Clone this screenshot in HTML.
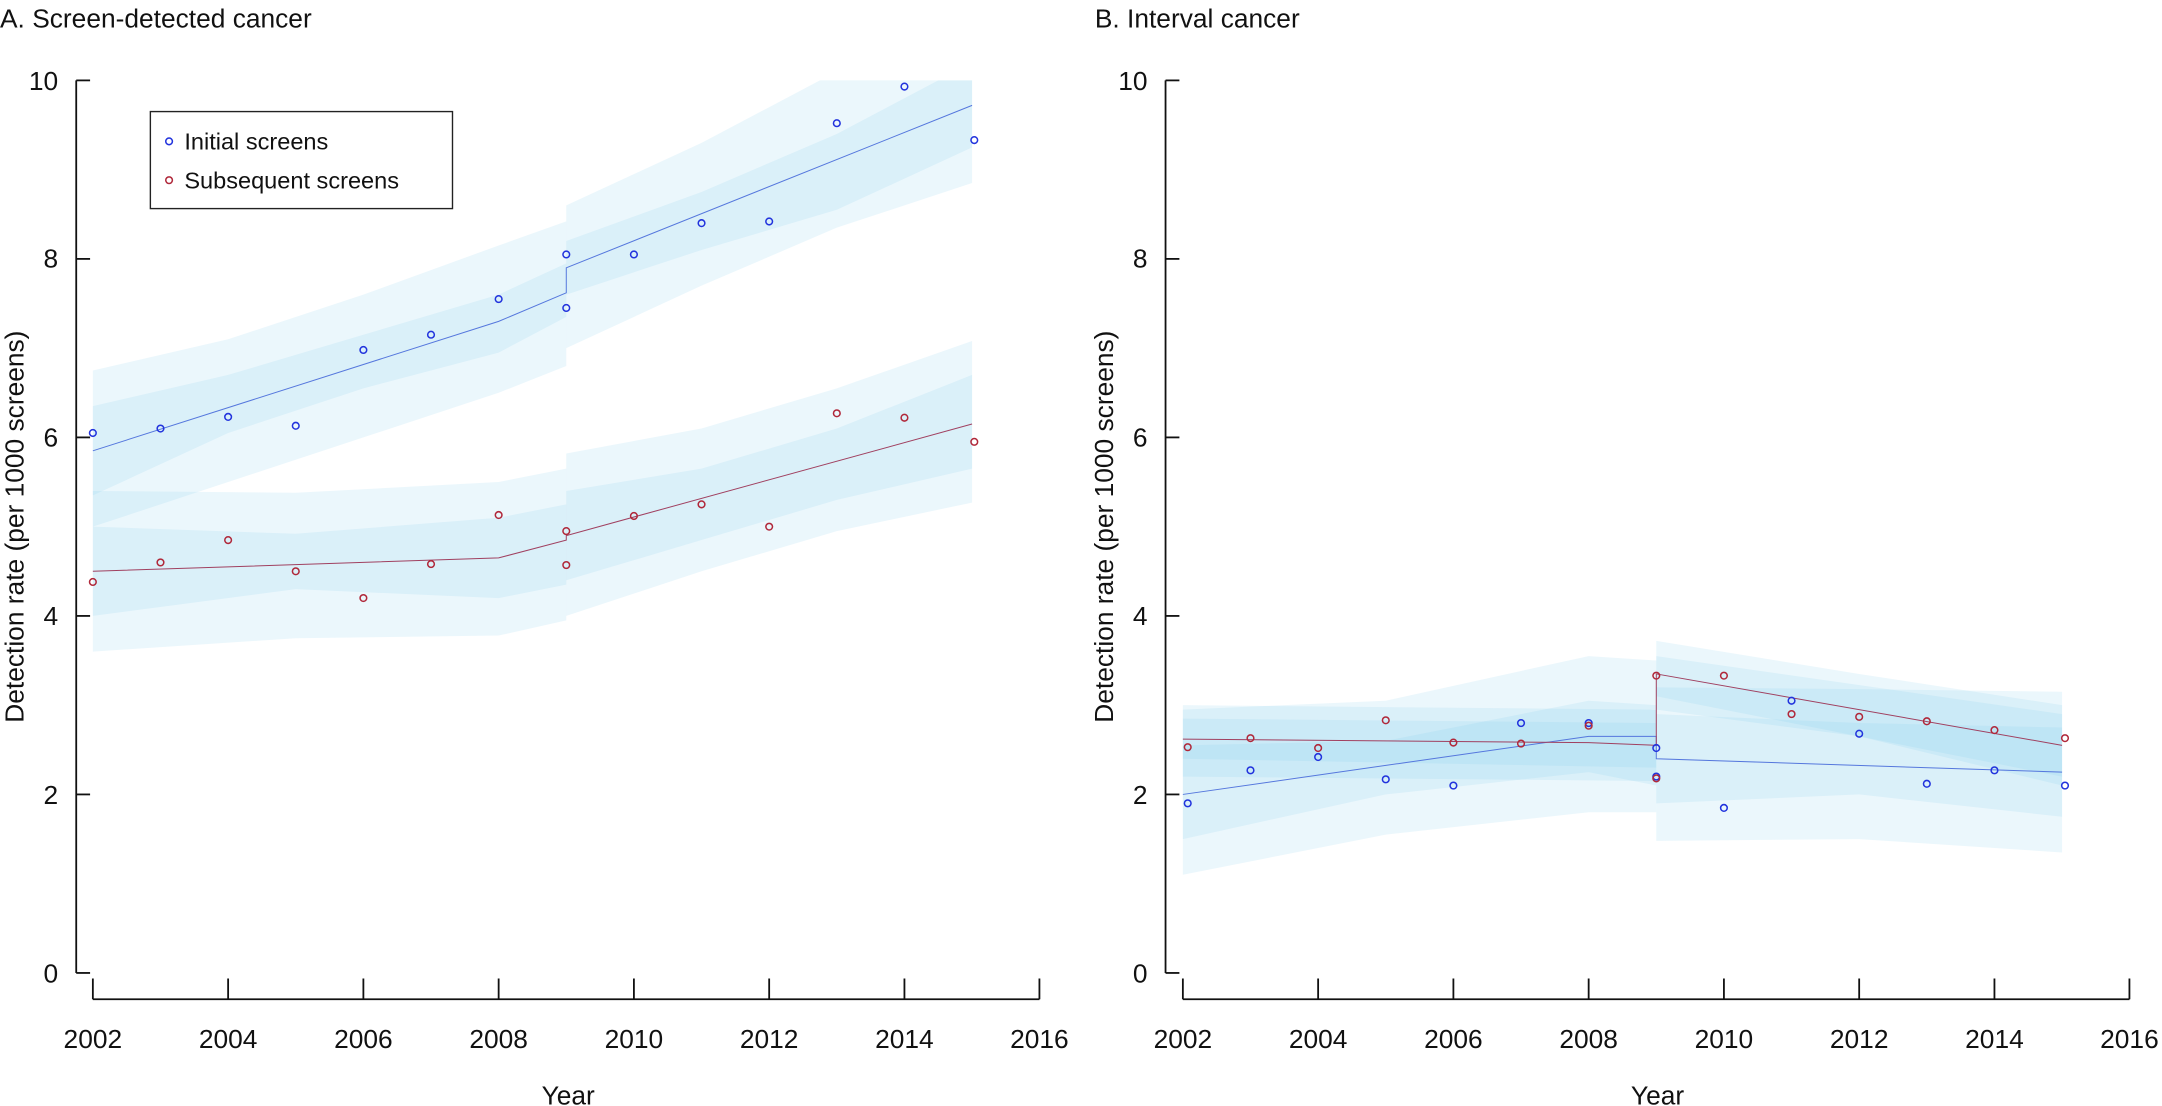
<!DOCTYPE html>
<html><head><meta charset="utf-8"><style>
html,body{margin:0;padding:0;background:#fff;}
svg{display:block;}
text{font-family:"Liberation Sans",sans-serif;fill:#111;}
</style></head><body>
<svg width="2162" height="1106" viewBox="0 0 1560 798" preserveAspectRatio="none" xmlns="http://www.w3.org/2000/svg">
<defs>
<clipPath id="ca"><rect x="55" y="58" width="720" height="660"/></clipPath>
</defs>

<!-- ===== Panel A ===== -->
<text x="0" y="20" font-size="19">A. Screen-detected cancer</text>
<g clip-path="url(#ca)">
<g transform="matrix(48.8 0 0 -64.4 67 702)">
 <g fill="rgb(120,200,235)" fill-opacity="0.15" stroke="none">
  <polygon points="0,6.75 2,7.1 4,7.6 6,8.15 7,8.42 7,6.8 6,6.5 4,6.0 2,5.5 0,5.0"/>
  <polygon points="7,8.6 9,9.3 11,10.1 13,10.8 13,8.85 11,8.35 9,7.7 7,7.0"/>
  <polygon points="0,6.35 2,6.7 4,7.15 6,7.6 7,7.95 7,7.35 6,6.95 4,6.55 2,6.05 0,5.35"/>
  <polygon points="7,8.2 9,8.75 11,9.4 13,10.2 13,9.25 11,8.55 9,8.1 7,7.6"/>
  <polygon points="0,5.4 3,5.38 6,5.5 7,5.65 7,3.95 6,3.78 3,3.75 0,3.6"/>
  <polygon points="7,5.82 9,6.1 11,6.55 13,7.08 13,5.27 11,4.95 9,4.5 7,4.0"/>
  <polygon points="0,5.0 3,4.92 6,5.1 7,5.25 7,4.35 6,4.2 3,4.3 0,4.0"/>
  <polygon points="7,5.4 9,5.65 11,6.1 13,6.7 13,5.65 11,5.3 9,4.85 7,4.4"/>
 </g>
 <polyline points="0,5.85 6,7.3 7,7.62 7,7.9 13,9.72" fill="none" stroke="#5577dd" stroke-width="1" vector-effect="non-scaling-stroke"/>
 <polyline points="0,4.5 6,4.65 7,4.85 7,4.9 13,6.15" fill="none" stroke="#a04060" stroke-width="1" vector-effect="non-scaling-stroke"/>
</g>
</g>
<g fill="none" stroke="#2233dd" stroke-width="1.1">
<circle cx="67" cy="312.4" r="2.4"/><circle cx="115.8" cy="309.2" r="2.4"/><circle cx="164.6" cy="300.8" r="2.4"/><circle cx="213.4" cy="307.2" r="2.4"/><circle cx="262.2" cy="252.5" r="2.4"/><circle cx="311" cy="241.5" r="2.4"/><circle cx="359.8" cy="215.8" r="2.4"/><circle cx="408.6" cy="222.2" r="2.4"/><circle cx="408.6" cy="183.6" r="2.4"/><circle cx="457.4" cy="183.6" r="2.4"/><circle cx="506.2" cy="161" r="2.4"/><circle cx="555" cy="159.8" r="2.4"/><circle cx="603.8" cy="88.9" r="2.4"/><circle cx="652.6" cy="62.5" r="2.4"/><circle cx="703" cy="101.1" r="2.4"/>
</g>
<g fill="none" stroke="#b0283a" stroke-width="1.1">
<circle cx="67" cy="419.9" r="2.4"/><circle cx="115.8" cy="405.8" r="2.4"/><circle cx="164.6" cy="389.7" r="2.4"/><circle cx="213.4" cy="412.2" r="2.4"/><circle cx="262.2" cy="431.5" r="2.4"/><circle cx="311" cy="407" r="2.4"/><circle cx="359.8" cy="371.6" r="2.4"/><circle cx="408.6" cy="407.7" r="2.4"/><circle cx="408.6" cy="383.2" r="2.4"/><circle cx="457.4" cy="372.3" r="2.4"/><circle cx="506.2" cy="363.9" r="2.4"/><circle cx="555" cy="380" r="2.4"/><circle cx="603.8" cy="298.2" r="2.4"/><circle cx="652.6" cy="301.4" r="2.4"/><circle cx="703" cy="318.8" r="2.4"/>
</g>
<!-- legend -->
<rect x="108.5" y="80.5" width="218" height="70" fill="#fff" stroke="#222" stroke-width="1"/>
<circle cx="122" cy="102" r="2.4" fill="none" stroke="#2233dd" stroke-width="1.1"/>
<circle cx="122" cy="130" r="2.4" fill="none" stroke="#b0283a" stroke-width="1.1"/>
<text x="133" y="108" font-size="17">Initial screens</text>
<text x="133" y="136" font-size="17">Subsequent screens</text>
<!-- axes A -->
<g stroke="#111" stroke-width="1.3" fill="none">
<line x1="55" y1="58" x2="55" y2="702"/>
<line x1="55" y1="702" x2="65" y2="702"/><line x1="55" y1="573.2" x2="65" y2="573.2"/><line x1="55" y1="444.4" x2="65" y2="444.4"/><line x1="55" y1="315.6" x2="65" y2="315.6"/><line x1="55" y1="186.8" x2="65" y2="186.8"/><line x1="55" y1="58" x2="65" y2="58"/>
<line x1="67" y1="721" x2="750" y2="721"/>
<line x1="67" y1="706" x2="67" y2="721"/><line x1="164.6" y1="706" x2="164.6" y2="721"/><line x1="262.2" y1="706" x2="262.2" y2="721"/><line x1="359.8" y1="706" x2="359.8" y2="721"/><line x1="457.4" y1="706" x2="457.4" y2="721"/><line x1="555" y1="706" x2="555" y2="721"/><line x1="652.6" y1="706" x2="652.6" y2="721"/><line x1="750" y1="706" x2="750" y2="721"/>
</g>
<g font-size="19" text-anchor="end">
<text x="42" y="709">0</text><text x="42" y="580">2</text><text x="42" y="451">4</text><text x="42" y="322">6</text><text x="42" y="193">8</text><text x="42" y="65">10</text>
</g>
<g font-size="19" text-anchor="middle">
<text x="67" y="756">2002</text><text x="164.6" y="756">2004</text><text x="262.2" y="756">2006</text><text x="359.8" y="756">2008</text><text x="457.4" y="756">2010</text><text x="555" y="756">2012</text><text x="652.6" y="756">2014</text><text x="750" y="756">2016</text>
<text x="410" y="797">Year</text>
<text transform="translate(17,380) rotate(-90)">Detection rate (per 1000 screens)</text>
</g>

<!-- ===== Panel B ===== -->
<text x="790" y="20" font-size="19">B. Interval cancer</text>
<g transform="matrix(48.8 0 0 -64.4 853.5 702)">
 <g fill="rgb(120,200,235)" fill-opacity="0.15" stroke="none">
  <polygon points="0,2.95 3,3.05 6,3.55 7,3.5 7,1.8 6,1.8 3,1.55 0,1.1"/>
  <polygon points="7,3.2 10,3.18 13,3.15 13,1.35 10,1.5 7,1.48"/>
  <polygon points="0,2.55 3,2.6 6,3.05 7,3.0 7,2.1 6,2.25 3,2.0 0,1.5"/>
  <polygon points="7,2.9 10,2.8 13,2.75 13,1.75 10,2.0 7,1.9"/>
  <polygon points="0,3.0 7,2.95 7,2.15 0,2.2"/>
  <polygon points="0,2.85 7,2.8 7,2.3 0,2.4"/>
  <polygon points="7,3.72 10,3.35 13,3.0 13,2.1 10,2.65 7,2.95"/>
  <polygon points="7,3.55 13,2.9 13,2.2 7,3.1"/>
 </g>
 <polyline points="0,2.0 6,2.65 7,2.65 7,2.4 13,2.25" fill="none" stroke="#5577dd" stroke-width="1" vector-effect="non-scaling-stroke"/>
 <polyline points="0,2.62 6,2.58 7,2.55 7,3.35 13,2.55" fill="none" stroke="#a04060" stroke-width="1" vector-effect="non-scaling-stroke"/>
</g>
<g fill="none" stroke="#2233dd" stroke-width="1.1">
<circle cx="857" cy="579.6" r="2.4"/><circle cx="902.3" cy="555.8" r="2.4"/><circle cx="951.1" cy="546.2" r="2.4"/><circle cx="999.9" cy="562.3" r="2.4"/><circle cx="1048.7" cy="566.8" r="2.4"/><circle cx="1097.5" cy="521.7" r="2.4"/><circle cx="1146.3" cy="521.7" r="2.4"/><circle cx="1195.1" cy="539.7" r="2.4"/><circle cx="1195.1" cy="560.3" r="2.4"/><circle cx="1243.9" cy="582.9" r="2.4"/><circle cx="1292.7" cy="505.6" r="2.4"/><circle cx="1341.5" cy="529.4" r="2.4"/><circle cx="1390.3" cy="565.5" r="2.4"/><circle cx="1439.1" cy="555.8" r="2.4"/><circle cx="1490" cy="566.8" r="2.4"/>
</g>
<g fill="none" stroke="#b0283a" stroke-width="1.1">
<circle cx="857" cy="539.1" r="2.4"/><circle cx="902.3" cy="532.6" r="2.4"/><circle cx="951.1" cy="539.7" r="2.4"/><circle cx="999.9" cy="519.7" r="2.4"/><circle cx="1048.7" cy="535.8" r="2.4"/><circle cx="1097.5" cy="536.5" r="2.4"/><circle cx="1146.3" cy="523.6" r="2.4"/><circle cx="1195.1" cy="561.6" r="2.4"/><circle cx="1195.1" cy="487.5" r="2.4"/><circle cx="1243.9" cy="487.5" r="2.4"/><circle cx="1292.7" cy="515.2" r="2.4"/><circle cx="1341.5" cy="517.2" r="2.4"/><circle cx="1390.3" cy="520.4" r="2.4"/><circle cx="1439.1" cy="526.8" r="2.4"/><circle cx="1490" cy="532.6" r="2.4"/>
</g>
<g stroke="#111" stroke-width="1.3" fill="none">
<line x1="841" y1="58" x2="841" y2="702"/>
<line x1="841" y1="702" x2="851" y2="702"/><line x1="841" y1="573.2" x2="851" y2="573.2"/><line x1="841" y1="444.4" x2="851" y2="444.4"/><line x1="841" y1="315.6" x2="851" y2="315.6"/><line x1="841" y1="186.8" x2="851" y2="186.8"/><line x1="841" y1="58" x2="851" y2="58"/>
<line x1="853.5" y1="721" x2="1536.5" y2="721"/>
<line x1="853.5" y1="706" x2="853.5" y2="721"/><line x1="951.1" y1="706" x2="951.1" y2="721"/><line x1="1048.7" y1="706" x2="1048.7" y2="721"/><line x1="1146.3" y1="706" x2="1146.3" y2="721"/><line x1="1243.9" y1="706" x2="1243.9" y2="721"/><line x1="1341.5" y1="706" x2="1341.5" y2="721"/><line x1="1439.1" y1="706" x2="1439.1" y2="721"/><line x1="1536.5" y1="706" x2="1536.5" y2="721"/>
</g>
<g font-size="19" text-anchor="end">
<text x="828" y="709">0</text><text x="828" y="580">2</text><text x="828" y="451">4</text><text x="828" y="322">6</text><text x="828" y="193">8</text><text x="828" y="65">10</text>
</g>
<g font-size="19" text-anchor="middle">
<text x="853.5" y="756">2002</text><text x="951.1" y="756">2004</text><text x="1048.7" y="756">2006</text><text x="1146.3" y="756">2008</text><text x="1243.9" y="756">2010</text><text x="1341.5" y="756">2012</text><text x="1439.1" y="756">2014</text><text x="1536.5" y="756">2016</text>
<text x="1196" y="797">Year</text>
<text transform="translate(803,380) rotate(-90)">Detection rate (per 1000 screens)</text>
</g>
</svg>
</body></html>
